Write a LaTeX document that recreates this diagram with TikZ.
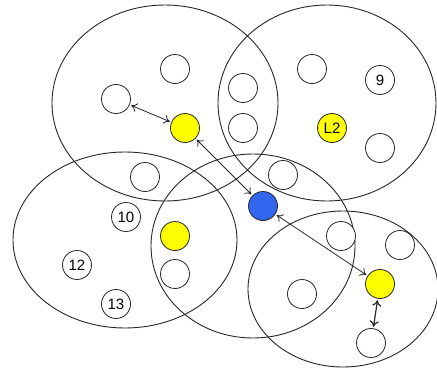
\documentclass[tikz,border=0pt]{standalone}
\usepackage{fontspec}
\setmainfont{Liberation Sans}
\usetikzlibrary{arrows.meta}
\definecolor{hubblue}{RGB}{51,102,238}
\definecolor{leadyellow}{RGB}{255,255,0}
\tikzset{
  zone/.style={draw=black!85, line width=0.9pt},
  host/.style={circle, draw=black!85, line width=0.8pt, fill=white, minimum size=29pt, inner sep=0pt, font=\fontsize{15}{15}\selectfont},
  leader/.style={host, fill=leadyellow},
  hub/.style={host, fill=hubblue},
  link/.style={{To[length=6pt,width=9pt]}-{To[length=6pt,width=9pt]}, draw=black!85, line width=0.8pt, shorten <=1.5pt, shorten >=1.5pt},
  shortlink/.style={link, line width=1.2pt}
}
\begin{document}
\begin{tikzpicture}[x=1pt, y=-1pt]
  \useasboundingbox (0,0) rectangle (437,370);

  % Clusters
  \draw[zone] (165,103) ellipse (113 and 98);
  \draw[zone] (327,103) ellipse (109 and 98);
  \draw[zone] (125,240) ellipse (112 and 88);
  \draw[zone] (253,246) ellipse (102 and 92);
  \draw[zone] (343,289) ellipse (95 and 78);

  % Hosts, top left
  \node[host] (a1) at (175,69) {};
  \node[host] (a2) at (116,99) {};
  \node[leader] (l1) at (185,128) {};
  \node[host] (a3) at (145,177) {};

  % Hosts, top right
  \node[host] (b1) at (243,88) {};
  \node[host] (b2) at (243,128) {};
  \node[host] (b3) at (312,69) {};
  \node[host] (b9) at (380,80) {9};
  \node[leader] (l2) at (332,128) {L2};
  \node[host] (b4) at (380,148) {};
  \node[host] (b5) at (283,175) {};

  % Hosts, bottom left
  \node[host] (c10) at (126,217) {10};
  \node[leader] (l3) at (175,236) {};
  \node[host] (c1) at (175,274) {};
  \node[host] (c12) at (77,265) {12};
  \node[host] (c13) at (116,304) {13};

  % Hosts, bottom right
  \node[hub] (h) at (263,206) {};
  \node[host] (d1) at (341,236) {};
  \node[host] (d2) at (400,245) {};
  \node[leader] (l4) at (380,284) {};
  \node[host] (d3) at (302,294) {};
  \node[host] (d4) at (371,343) {};

  % Links
  \draw[link] (a2) -- (l1);
  \draw[link] (l1) -- (h);
  \draw[link] (h) -- (l4);
  \draw[shortlink] (l4) -- (d4);
\end{tikzpicture}
\end{document}
